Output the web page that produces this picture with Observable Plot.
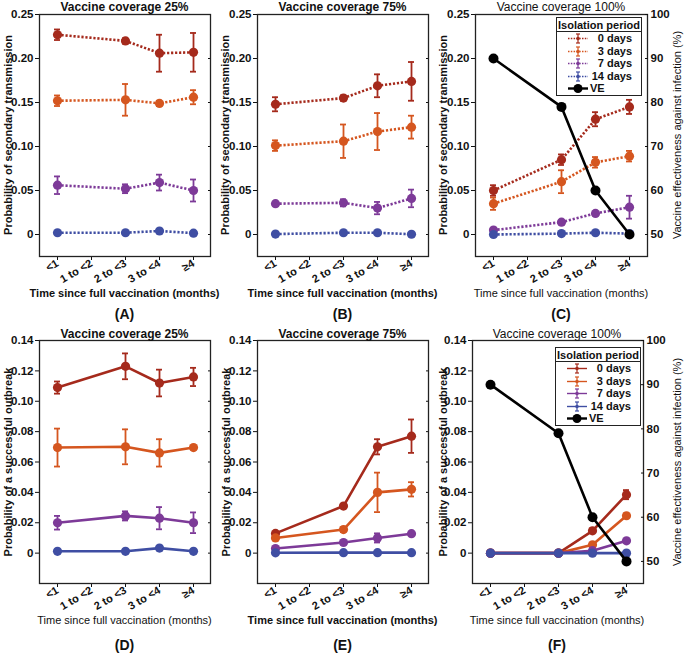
<!DOCTYPE html>
<html>
<head>
<meta charset="utf-8">
<script src="https://cdn.jsdelivr.net/npm/d3@7"></script>
<script src="https://cdn.jsdelivr.net/npm/@observablehq/plot@0.6"></script>
<style>
  body { margin: 0; background: #fff; }
  #root { position: relative; width: 685px; height: 653px; font-family: "Liberation Sans", Arial, sans-serif; color: #111; overflow: hidden; }
  .abs { position: absolute; }
  .txt { position: absolute; white-space: nowrap; transform: translate(-50%, -50%); line-height: 1; }
  .legend { position: absolute; background: #fff; border: 1.3px solid #222; box-sizing: border-box; font-size: 11px; font-weight: bold; }
  .legend .hdr { height: 14px; line-height: 14px; text-align: center; border-bottom: 1.3px solid #222; box-sizing: border-box; }
  .legend .row { position: relative; height: 12.5px; }
  .legend .row svg { position: absolute; left: 10px; top: 1px; }
  .legend .row span { position: absolute; top: 0; line-height: 12.5px; }
</style>
</head>
<body>
<div id="root"></div>
<script>
// ---------- data ----------
const categories = ["<1", "1 to <2", "2 to <3", "3 to <4", "≥4"];
const dataCategories = ["<1", "2 to <3", "3 to <4", "≥4"];
const periods = ["0 days", "3 days", "7 days", "14 days"];
const periodColors = ["#a52a1c", "#d5561f", "#7d3a98", "#3f4ea3"];
const transTicks = [0, 0.05, 0.10, 0.15, 0.20, 0.25];
const outbreakTicks = [0, 0.02, 0.04, 0.06, 0.08, 0.10, 0.12, 0.14];
const veTicks = [50, 60, 70, 80, 90, 100];
const veValues = [90, 79, 60, 50];

// secondary transmission, rows = isolation periods, cols = dataCategories
const transA = [[0.227, 0.220, 0.206, 0.207], [0.152, 0.153, 0.149, 0.156], [0.056, 0.052, 0.059, 0.050], [0.002, 0.002, 0.004, 0.0015]];
const transAErr = [[0.006, 0.003, 0.021, 0.022], [0.006, 0.018, 0.003, 0.008], [0.010, 0.005, 0.009, 0.0125], [0, 0, 0, 0]];
const transB = [[0.148, 0.155, 0.169, 0.174], [0.101, 0.106, 0.117, 0.122], [0.035, 0.036, 0.030, 0.041], [0.0005, 0.002, 0.002, 0.0003]];
const transBErr = [[0.008, 0.003, 0.013, 0.022], [0.006, 0.019, 0.021, 0.013], [0.002, 0.004, 0.007, 0.010], [0, 0, 0, 0]];
const transC = [[0.050, 0.085, 0.131, 0.145], [0.035, 0.060, 0.082, 0.089], [0.005, 0.014, 0.024, 0.031], [0.000, 0.001, 0.002, 0.001]];
const transCErr = [[0.006, 0.006, 0.008, 0.008], [0.007, 0.013, 0.006, 0.006], [0.002, 0.002, 0.002, 0.013], [0, 0, 0, 0]];
// successful outbreak
const outD = [[0.109, 0.123, 0.112, 0.116], [0.0695, 0.070, 0.066, 0.0695], [0.020, 0.0245, 0.023, 0.020], [0.0012, 0.0012, 0.0033, 0.0012]];
const outDErr = [[0.004, 0.0085, 0.0088, 0.006], [0.0125, 0.0115, 0.009, 0.0008], [0.0045, 0.003, 0.0073, 0.0068], [0, 0, 0, 0]];
const outE = [[0.013, 0.031, 0.070, 0.077], [0.010, 0.0155, 0.040, 0.042], [0.003, 0.007, 0.010, 0.0128], [0.0002, 0.0003, 0.0003, 0.0003]];
const outEErr = [[0.001, 0.001, 0.005, 0.011], [0.001, 0.0015, 0.013, 0.0047], [0.0005, 0.001, 0.003, 0.001], [0, 0, 0, 0]];
const outF = [[0, 0, 0.0147, 0.0385], [0, 0, 0.0055, 0.0246], [0, 0, 0.0016, 0.0081], [0, 0, 0, 0]];
const outFErr = [[0, 0, 0.0015, 0.003], [0, 0, 0.001, 0.0015], [0, 0, 0.0005, 0.001], [0, 0, 0, 0]];

// ---------- helpers ----------
const root = document.getElementById("root");
const FONT = "'Liberation Sans', Arial, sans-serif";
const fmt = d => d === 0 ? "0" : d.toFixed(2);

function rowsOf(means, errs) {
  const rows = [];
  means.forEach((ser, i) => ser.forEach((v, j) => rows.push({
    period: periods[i], cat: dataCategories[j], y: v,
    lo: v - errs[i][j], hi: v + errs[i][j], err: errs[i][j]
  })));
  return rows;
}

function place(node, left, top, width) {
  const div = document.createElement("div");
  div.className = "abs";
  div.style.left = left + "px";
  div.style.top = top + "px";
  div.style.width = width + "px";
  div.appendChild(node);
  root.appendChild(div);
}

function addText(text, x, y, {size = 11, weight = "bold", rotate = 0} = {}) {
  const s = document.createElement("div");
  s.className = "txt";
  s.textContent = text;
  s.style.left = x + "px";
  s.style.top = y + "px";
  s.style.fontSize = size + "px";
  s.style.fontWeight = weight;
  s.style.transform = `translate(-50%, -50%) rotate(${rotate}deg)`;
  root.appendChild(s);
}

function panel(cfg) {
  const {left, top, width, height, mL, mR, mT, mB, yDomain, yTicks, means, errs, dotted, withVE} = cfg;
  const rows = rowsOf(means, errs);
  const common = {
    width, height, marginLeft: mL, marginRight: mR, marginTop: mT, marginBottom: mB,
    style: {fontSize: "11px", fontFamily: FONT, background: "transparent", overflow: "visible", color: "#111"},
    x: {type: "point", domain: categories, padding: 0.5, align: 0.5, axis: null}
  };
  const marks = [
    Plot.axisY(yTicks, {anchor: "left", tickSize: 4, tickPadding: 2, tickFormat: fmt, label: null, fontWeight: "bold", fontSize: 11.5}),
    Plot.axisX(categories, {anchor: "bottom", tickSize: 4, tickPadding: 2, tickRotate: -30, label: null, fontWeight: "bold", fontSize: 11})
  ];
  if (!withVE) marks.push(Plot.axisY(yTicks, {anchor: "right", tickSize: 3, dx: -3, tickFormat: () => "", label: null}));
  periods.forEach((p, i) => {
    const sub = rows.filter(d => d.period === p);
    const bars = sub.filter(d => d.err > 0);
    const c = periodColors[i];
    marks.push(
      Plot.line(sub, {x: "cat", y: "y", stroke: c, strokeWidth: 2.6, strokeLinecap: "butt", strokeDasharray: dotted ? "2.2,1.8" : null}),
      Plot.ruleX(bars, {x: "cat", y1: "lo", y2: "hi", stroke: c, strokeWidth: 1.8}),
      Plot.ruleY(bars, {x1: "cat", x2: "cat", y: "hi", insetLeft: -3, insetRight: -3, stroke: c, strokeWidth: 1.8}),
      Plot.ruleY(bars, {x1: "cat", x2: "cat", y: "lo", insetLeft: -3, insetRight: -3, stroke: c, strokeWidth: 1.8}),
      Plot.dot(sub, {x: "cat", y: "y", r: 4.6, fill: c})
    );
  });
  marks.push(Plot.frame({stroke: "#222", strokeWidth: 1.3}));
  const chart = Plot.plot({...common, y: {domain: yDomain, axis: null}, marks});
  place(chart, left, top, width);

  if (withVE) {
    const veRows = veValues.map((v, j) => ({cat: dataCategories[j], ve: v}));
    const overlay = Plot.plot({
      ...common,
      y: {domain: [45, 100], axis: null},
      marks: [
        Plot.axisY(veTicks, {anchor: "right", tickSize: 3, dx: -3, tickPadding: 3, label: null, fontWeight: "bold", fontSize: 11.5}),
        Plot.line(veRows, {x: "cat", y: "ve", stroke: "#000", strokeWidth: 2.6}),
        Plot.dot(veRows, {x: "cat", y: "ve", r: 5, fill: "#000"})
      ]
    });
    place(overlay, left, top, width);
  }
}

function legend(left, top, dotted) {
  const box = document.createElement("div");
  box.className = "legend";
  box.style.left = left + "px";
  box.style.top = top + "px";
  box.style.width = "86px";
  box.innerHTML = `<div class="hdr">Isolation period</div>`;
  periods.forEach((p, i) => {
    const c = periodColors[i];
    const row = document.createElement("div");
    row.className = "row";
    row.innerHTML = `<svg width="22" height="11">
      <line x1="1" x2="21" y1="5.5" y2="5.5" stroke="${c}" stroke-width="1.4" ${dotted ? 'stroke-dasharray="1.5,1.3"' : ''}/>
      <line x1="11" x2="11" y1="1" y2="10" stroke="${c}" stroke-width="1.2"/>
      <line x1="9" x2="13" y1="1" y2="1" stroke="${c}" stroke-width="1.2"/>
      <line x1="9" x2="13" y1="10" y2="10" stroke="${c}" stroke-width="1.2"/>
      <circle cx="11" cy="5.5" r="1.8" fill="${c}"/></svg><span style="right:9px">${p}</span>`;
    box.appendChild(row);
  });
  const ve = document.createElement("div");
  ve.className = "row";
  ve.innerHTML = `<svg width="22" height="11">
      <line x1="1" x2="21" y1="5.5" y2="5.5" stroke="#000" stroke-width="2.4"/>
      <circle cx="11" cy="5.5" r="4.5" fill="#000"/></svg><span style="left:33px">VE</span>`;
  box.appendChild(ve);
  root.appendChild(box);
}

// ---------- top row: secondary transmission ----------
const topRow = {top: 0, height: 300, mT: 14, mB: 44, yDomain: [-0.025, 0.25], yTicks: transTicks, dotted: true};
panel({...topRow, left: 0, width: 218, mL: 39, mR: 8, means: transA, errs: transAErr});
panel({...topRow, left: 218, width: 218, mL: 39, mR: 8, means: transB, errs: transBErr});
panel({...topRow, left: 436, width: 249, mL: 39, mR: 38, means: transC, errs: transCErr, withVE: true});

// ---------- bottom row: successful outbreak ----------
const botRow = {top: 326, height: 301, mT: 14, mB: 44, yDomain: [-0.02, 0.14], yTicks: outbreakTicks, dotted: false};
panel({...botRow, left: 0, width: 218, mL: 39, mR: 8, means: outD, errs: outDErr});
panel({...botRow, left: 218, width: 218, mL: 39, mR: 8, means: outE, errs: outEErr});
panel({...botRow, left: 433, width: 252, mL: 39, mR: 42, means: outF, errs: outFErr, withVE: true});

legend(556, 17, true);
legend(555, 347, false);

// ---------- text ----------
addText("Vaccine coverage 25%", 124.5, 7, {size: 12});
addText("Vaccine coverage 75%", 342.5, 7, {size: 12});
addText("Vaccine coverage 100%", 561, 7, {size: 12, weight: "normal"});
addText("Vaccine coverage 25%", 124.5, 334, {size: 12});
addText("Vaccine coverage 75%", 342.5, 334, {size: 12});
addText("Vaccine coverage 100%", 557, 334, {size: 12, weight: "normal"});

const xLab = "Time since full vaccination (months)";
addText(xLab, 124.5, 293);
addText(xLab, 342.5, 293);
addText(xLab, 561, 293, {weight: "normal"});
addText(xLab, 124.5, 620, {weight: "normal"});
addText(xLab, 342.5, 620);
addText(xLab, 557, 620, {weight: "normal"});

addText("(A)", 124.5, 314, {size: 14});
addText("(B)", 342.5, 314, {size: 14});
addText("(C)", 561, 314, {size: 14});
addText("(D)", 124.5, 645, {size: 14});
addText("(E)", 342.5, 645, {size: 14});
addText("(F)", 557, 645, {size: 14});

const yLabTop = "Probability of secondary transmission";
const yLabBot = "Probability of a successful outbreak";
const yLabVE = "Vaccine effectiveness against infection (%)";
[8, 225, 443].forEach(x => addText(yLabTop, x, 135, {rotate: -90}));
[8, 226, 443].forEach(x => addText(yLabBot, x, 462, {rotate: -90}));
addText(yLabVE, 677, 135, {rotate: -90, weight: "normal"});
addText(yLabVE, 677, 462, {rotate: -90, weight: "normal"});
</script>
</body>
</html>
